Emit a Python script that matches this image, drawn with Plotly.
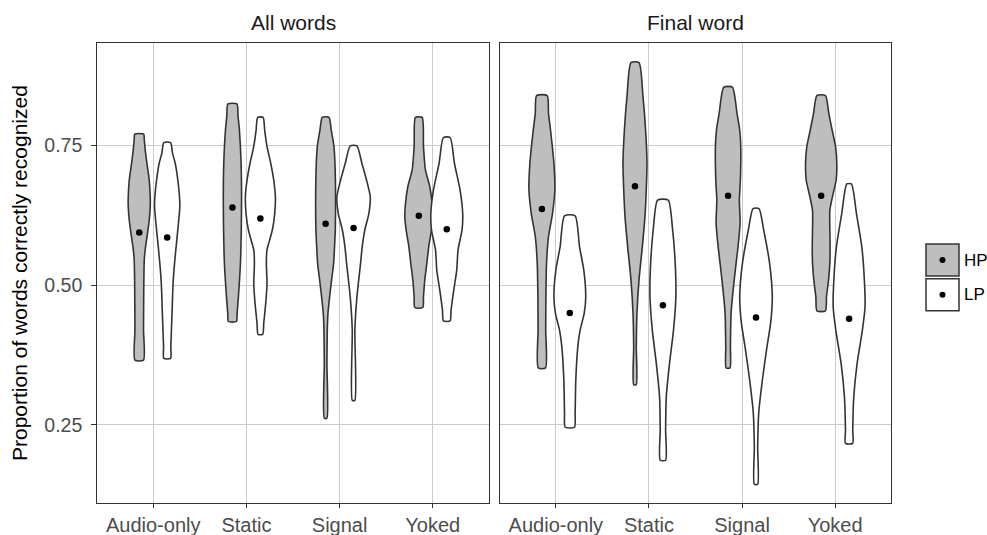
import plotly.graph_objects as go

# ---------------- data ----------------
categories = ["Audio-only", "Static", "Signal", "Yoked"]
panels = ["All words", "Final word"]
groups = ["HP", "LP"]

# means (black dots)
hp_means_all = [0.594, 0.639, 0.610, 0.624]
lp_means_all = [0.585, 0.619, 0.602, 0.600]
hp_means_final = [0.636, 0.677, 0.660, 0.660]
lp_means_final = [0.450, 0.464, 0.442, 0.440]

# violin density profiles: y levels and half-widths (category units)
# ---- All words ----
aw_audio_hp_y = [0.770, 0.760, 0.742, 0.718, 0.688, 0.658, 0.640, 0.616, 0.593, 0.569, 0.545, 0.515, 0.479, 0.420, 0.366]
aw_audio_hp_w = [0.048, 0.054, 0.064, 0.082, 0.107, 0.118, 0.118, 0.107, 0.089, 0.068, 0.054, 0.050, 0.048, 0.046, 0.046]
aw_audio_lp_y = [0.755, 0.736, 0.718, 0.688, 0.658, 0.640, 0.599, 0.569, 0.539, 0.503, 0.450, 0.390, 0.369]
aw_audio_lp_w = [0.036, 0.057, 0.086, 0.114, 0.132, 0.136, 0.114, 0.096, 0.079, 0.063, 0.052, 0.039, 0.036]
aw_static_hp_y = [0.824, 0.801, 0.777, 0.718, 0.658, 0.599, 0.539, 0.479, 0.449, 0.435]
aw_static_hp_w = [0.048, 0.061, 0.075, 0.093, 0.098, 0.095, 0.086, 0.064, 0.050, 0.043]
aw_static_lp_y = [0.800, 0.777, 0.748, 0.718, 0.688, 0.658, 0.628, 0.599, 0.581, 0.563, 0.539, 0.503, 0.467, 0.432, 0.412]
aw_static_lp_w = [0.029, 0.046, 0.071, 0.111, 0.143, 0.161, 0.154, 0.129, 0.100, 0.071, 0.064, 0.071, 0.057, 0.036, 0.025]
aw_signal_hp_y = [0.800, 0.777, 0.748, 0.718, 0.658, 0.599, 0.569, 0.539, 0.509, 0.479, 0.449, 0.420, 0.360, 0.262]
aw_signal_hp_w = [0.036, 0.061, 0.089, 0.100, 0.107, 0.104, 0.096, 0.086, 0.064, 0.043, 0.025, 0.018, 0.014, 0.014]
aw_signal_lp_y = [0.749, 0.718, 0.688, 0.658, 0.628, 0.599, 0.569, 0.539, 0.479, 0.420, 0.294]
aw_signal_lp_w = [0.036, 0.089, 0.139, 0.179, 0.164, 0.121, 0.093, 0.075, 0.036, 0.014, 0.014]
aw_yoked_hp_y = [0.800, 0.748, 0.706, 0.676, 0.646, 0.622, 0.599, 0.569, 0.539, 0.509, 0.479, 0.460]
aw_yoked_hp_w = [0.036, 0.050, 0.071, 0.118, 0.143, 0.150, 0.136, 0.107, 0.086, 0.064, 0.050, 0.043]
aw_yoked_lp_y = [0.764, 0.718, 0.670, 0.628, 0.599, 0.563, 0.527, 0.491, 0.455, 0.436]
aw_yoked_lp_w = [0.036, 0.082, 0.143, 0.171, 0.164, 0.121, 0.107, 0.075, 0.046, 0.036]
# ---- Final word ----
fw_audio_hp_y = [0.839, 0.807, 0.777, 0.718, 0.670, 0.628, 0.587, 0.539, 0.479, 0.420, 0.352]
fw_audio_hp_w = [0.057, 0.071, 0.093, 0.129, 0.139, 0.114, 0.071, 0.050, 0.043, 0.041, 0.039]
fw_audio_lp_y = [0.624, 0.569, 0.527, 0.479, 0.449, 0.420, 0.390, 0.330, 0.271, 0.246]
fw_audio_lp_w = [0.057, 0.104, 0.150, 0.171, 0.154, 0.111, 0.086, 0.064, 0.057, 0.050]
fw_static_hp_y = [0.898, 0.837, 0.777, 0.718, 0.670, 0.622, 0.569, 0.509, 0.449, 0.390, 0.322]
fw_static_hp_w = [0.043, 0.086, 0.114, 0.129, 0.121, 0.107, 0.079, 0.043, 0.021, 0.014, 0.014]
fw_static_lp_y = [0.652, 0.599, 0.539, 0.479, 0.420, 0.360, 0.300, 0.241, 0.187]
fw_static_lp_w = [0.057, 0.104, 0.132, 0.139, 0.114, 0.071, 0.036, 0.029, 0.029]
fw_signal_hp_y = [0.854, 0.807, 0.777, 0.748, 0.688, 0.652, 0.611, 0.569, 0.539, 0.491, 0.449, 0.390, 0.352]
fw_signal_hp_w = [0.046, 0.096, 0.125, 0.136, 0.132, 0.121, 0.129, 0.107, 0.086, 0.054, 0.032, 0.025, 0.021]
fw_signal_lp_y = [0.637, 0.599, 0.539, 0.479, 0.432, 0.390, 0.330, 0.271, 0.211, 0.144]
fw_signal_lp_w = [0.032, 0.082, 0.146, 0.175, 0.157, 0.118, 0.068, 0.029, 0.018, 0.018]
fw_yoked_hp_y = [0.839, 0.807, 0.777, 0.748, 0.718, 0.688, 0.658, 0.634, 0.599, 0.569, 0.539, 0.509, 0.479, 0.454]
fw_yoked_hp_w = [0.046, 0.082, 0.118, 0.154, 0.168, 0.161, 0.121, 0.093, 0.093, 0.096, 0.093, 0.079, 0.057, 0.046]
fw_yoked_lp_y = [0.681, 0.628, 0.569, 0.509, 0.461, 0.420, 0.360, 0.300, 0.241, 0.217]
fw_yoked_lp_w = [0.025, 0.079, 0.136, 0.164, 0.171, 0.143, 0.086, 0.050, 0.039, 0.039]

profiles = {
    ("All words", "HP"): [(aw_audio_hp_y, aw_audio_hp_w), (aw_static_hp_y, aw_static_hp_w),
                          (aw_signal_hp_y, aw_signal_hp_w), (aw_yoked_hp_y, aw_yoked_hp_w)],
    ("All words", "LP"): [(aw_audio_lp_y, aw_audio_lp_w), (aw_static_lp_y, aw_static_lp_w),
                          (aw_signal_lp_y, aw_signal_lp_w), (aw_yoked_lp_y, aw_yoked_lp_w)],
    ("Final word", "HP"): [(fw_audio_hp_y, fw_audio_hp_w), (fw_static_hp_y, fw_static_hp_w),
                           (fw_signal_hp_y, fw_signal_hp_w), (fw_yoked_hp_y, fw_yoked_hp_w)],
    ("Final word", "LP"): [(fw_audio_lp_y, fw_audio_lp_w), (fw_static_lp_y, fw_static_lp_w),
                           (fw_signal_lp_y, fw_signal_lp_w), (fw_yoked_lp_y, fw_yoked_lp_w)],
}
means = {
    ("All words", "HP"): hp_means_all, ("All words", "LP"): lp_means_all,
    ("Final word", "HP"): hp_means_final, ("Final word", "LP"): lp_means_final,
}

# ---------------- style ----------------
W, H = 987, 535
fills = {"HP": "#bebebe", "LP": "#ffffff"}
outline = "#333333"
dodge = {"HP": -0.15, "LP": 0.15}
FONT = "Liberation Sans, Arial, Helvetica, sans-serif"

def px(x):
    return x / W

def py(y):
    return 1 - y / H

x_domains = [[px(97.3), px(488.7)], [px(500), px(891)]]
y_domain = [py(503), py(42.7)]

fig = go.Figure()
axis_names = [("x", "y"), ("x2", "y2")]

for pi, panel in enumerate(panels):
    xa, ya = axis_names[pi]
    for g in groups:
        for ci, (yy, ww) in enumerate(profiles[(panel, g)]):
            c = ci + 1 + dodge[g]
            xs = [c - w for w in ww] + [c + w for w in reversed(ww)] + [c - ww[0]]
            ys = list(yy) + list(reversed(yy)) + [yy[0]]
            fig.add_trace(go.Scatter(
                x=xs, y=ys, xaxis=xa, yaxis=ya, mode="lines", fill="toself",
                fillcolor=fills[g], line=dict(color=outline, width=1.6, shape="spline", smoothing=0.6),
                showlegend=False, hoverinfo="skip"))
        fig.add_trace(go.Scatter(
            x=[i + 1 + dodge[g] for i in range(len(categories))], y=means[(panel, g)],
            xaxis=xa, yaxis=ya, mode="markers",
            marker=dict(color="black", size=6.5), showlegend=False))

axis_common = dict(showline=True, mirror=True, linecolor=outline, linewidth=1.2,
                   showgrid=True, gridcolor="#cbcbcb", gridwidth=1, zeroline=False,
                   ticks="outside", tickcolor=outline, tickwidth=1.2,
                   automargin=False)

for pi in range(2):
    sfx = "" if pi == 0 else "2"
    fig.update_layout(**{
        "xaxis" + sfx: dict(axis_common, domain=x_domains[pi], range=[0.4, 4.6],
                            tickvals=[1, 2, 3, 4], ticktext=categories, ticklen=4,
                            tickfont=dict(size=20, color="#4d4d4d", family=FONT),
                            anchor="y" + sfx),
        "yaxis" + sfx: dict(axis_common, domain=y_domain, range=[0.1105, 0.9335],
                            tickvals=[0.25, 0.5, 0.75], ticktext=["0.25", "0.50", "0.75"],
                            ticklen=5, ticklabelstandoff=5,
                            tickfont=dict(size=19.5, color="#4d4d4d", family=FONT),
                            showticklabels=(pi == 0), ticks="outside" if pi == 0 else "",
                            anchor="x" + sfx),
    })

annotations = [
    dict(text="All words", x=px(293), y=py(23), xref="paper", yref="paper",
         xanchor="center", yanchor="middle",
         showarrow=False, font=dict(size=21, color="#1a1a1a", family=FONT)),
    dict(text="Final word", x=px(695.5), y=py(23), xref="paper", yref="paper",
         xanchor="center", yanchor="middle",
         showarrow=False, font=dict(size=21, color="#1a1a1a", family=FONT)),
    dict(text="Proportion of words correctly recognized", x=px(19), y=py(273),
         xref="paper", yref="paper", textangle=-90, showarrow=False,
         xanchor="center", yanchor="middle",
         font=dict(size=21, color="black", family=FONT)),
]

# legend (drawn manually to mimic ggplot keys)
shapes = []
key_tops = {"HP": 244, "LP": 278.7}
for g in groups:
    t = key_tops[g]
    shapes.append(dict(type="rect", xref="paper", yref="paper",
                       x0=px(926), x1=px(959), y0=py(t + 32), y1=py(t),
                       fillcolor=fills[g], line=dict(color=outline, width=1.5)))
    cx, cy = 942.5, t + 16
    shapes.append(dict(type="circle", xref="paper", yref="paper",
                       x0=px(cx - 3), x1=px(cx + 3), y0=py(cy + 3), y1=py(cy - 3),
                       fillcolor="black", line=dict(color="black", width=0)))
    annotations.append(dict(text=g, x=px(961.5), y=py(cy), xref="paper", yref="paper",
                            xanchor="left", yanchor="middle", showarrow=False,
                            font=dict(size=17, color="black", family=FONT)))

fig.update_layout(width=W, height=H, margin=dict(l=0, r=0, t=0, b=0, autoexpand=False),
                  paper_bgcolor="white", plot_bgcolor="white",
                  annotations=annotations, shapes=shapes, showlegend=False,
                  font=dict(family=FONT))

fig.write_html("out.html", config={"displayModeBar": False},
               post_script="document.body.style.margin='0';document.body.style.overflow='hidden';")
